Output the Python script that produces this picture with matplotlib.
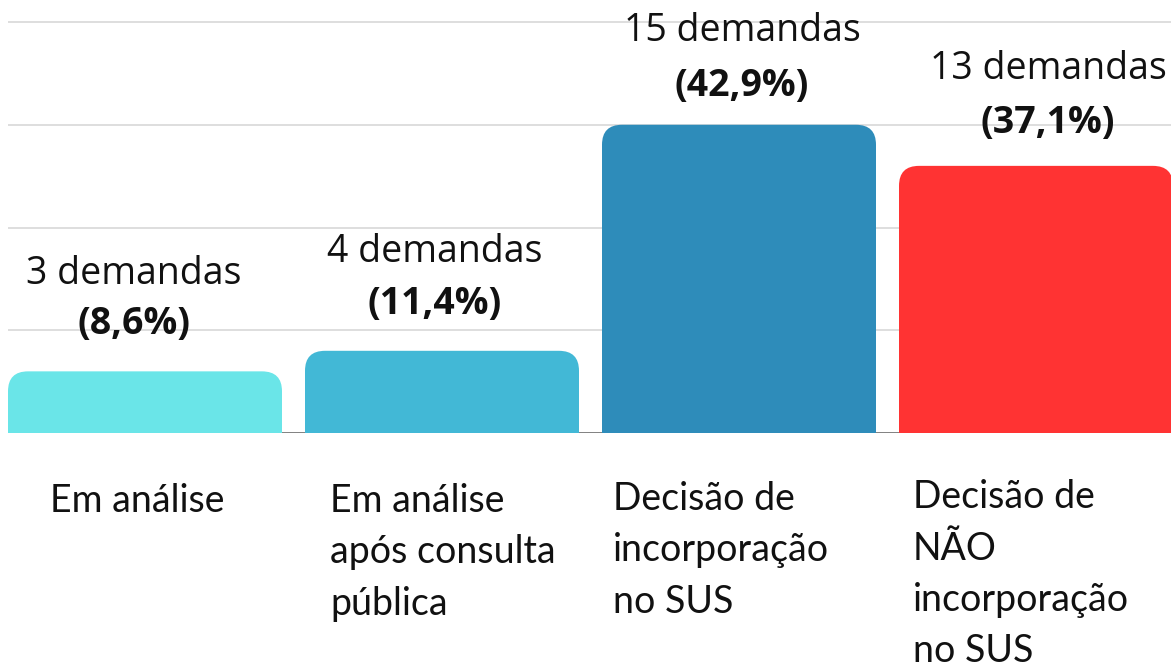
import numpy as np
import matplotlib
matplotlib.use("Agg")
import matplotlib.pyplot as plt
from matplotlib.patches import FancyBboxPatch, Rectangle

# data
categories = ["Em análise",
              "Em análise\napós consulta\npública",
              "Decisão de\nincorporação\nno SUS",
              "Decisão de\nNÃO\nincorporação\nno SUS"]
counts = [3, 4, 15, 13]
percents = ["(8,6%)", "(11,4%)", "(42,9%)", "(37,1%)"]
colors = ["#6ae5e8", "#42b8d6", "#2e8cba", "#ff3333"]

# label placement tweaks (pixels)
val_dx = [-11, -7, 3, 12]
pct_dy = [37, 37, 29, 33]
dem_dy = [87, 89, 84, 87]
cat_dx = [42, 25, 11, 14]
cat_dy = [79, 79, 77, 75]
line_step = 51.5

W, H, DPI = 1171, 666, 100
PX = 72.0 / DPI   # points per pixel

fig = plt.figure(figsize=(W / DPI, H / DPI), dpi=DPI)
ax = fig.add_axes([8 / W, 233 / H, 1163 / W, 412 / H])

bw = 274 / 297
x = np.arange(len(counts))
bars = ax.bar(x, counts, width=bw, color=colors)

ax.set_xlim(-bw / 2, -bw / 2 + 1163 / 297)
ax.set_ylim(0, 20.05)
ax.set_yticks([5, 10, 15, 20])
ax.grid(axis="y", color="#d4d4d4", lw=1.1, zorder=0)
ax.set_axisbelow(True)
ax.tick_params(left=False, bottom=False, labelleft=False, labelbottom=False)
for s in ax.spines.values():
    s.set_visible(False)
ax.axhline(0, color="#777777", lw=1.3, zorder=1)

# round the top corners
rx = 20 / 297
ry = 20 / 20.6
for r in bars:
    bx, bwid, bh = r.get_x(), r.get_width(), r.get_height()
    c = r.get_facecolor()
    r.set_visible(False)
    ax.add_patch(FancyBboxPatch((bx, 0), bwid, bh,
                                boxstyle="round,pad=0,rounding_size=%f" % rx,
                                mutation_aspect=ry / rx, fc=c, ec="none", zorder=2))
    ax.add_patch(Rectangle((bx, 0), bwid, min(bh, 2 * ry), fc=c, ec="none", zorder=2))

for i, r in enumerate(bars):
    cx = r.get_x() + r.get_width() / 2
    h = r.get_height()
    ax.annotate("%d demandas" % counts[i], xy=(cx, h), xytext=(val_dx[i] * PX, dem_dy[i] * PX),
                textcoords="offset points", ha="center", va="baseline",
                fontsize=27, family="Open Sans", color="#111111")
    ax.annotate(percents[i], xy=(cx, h), xytext=(val_dx[i] * PX, pct_dy[i] * PX),
                textcoords="offset points", ha="center", va="baseline",
                fontsize=27, family="Open Sans", fontweight="bold", color="#111111")
    for j, line in enumerate(categories[i].split("\n")):
        ax.annotate(line, xy=(r.get_x(), 0),
                    xytext=(cat_dx[i] * PX, -(cat_dy[i] + j * line_step) * PX),
                    textcoords="offset points", ha="left", va="baseline",
                    fontsize=27, family="Lato", color="#111111",
                    annotation_clip=False)

fig.savefig("out.png", dpi=DPI)
